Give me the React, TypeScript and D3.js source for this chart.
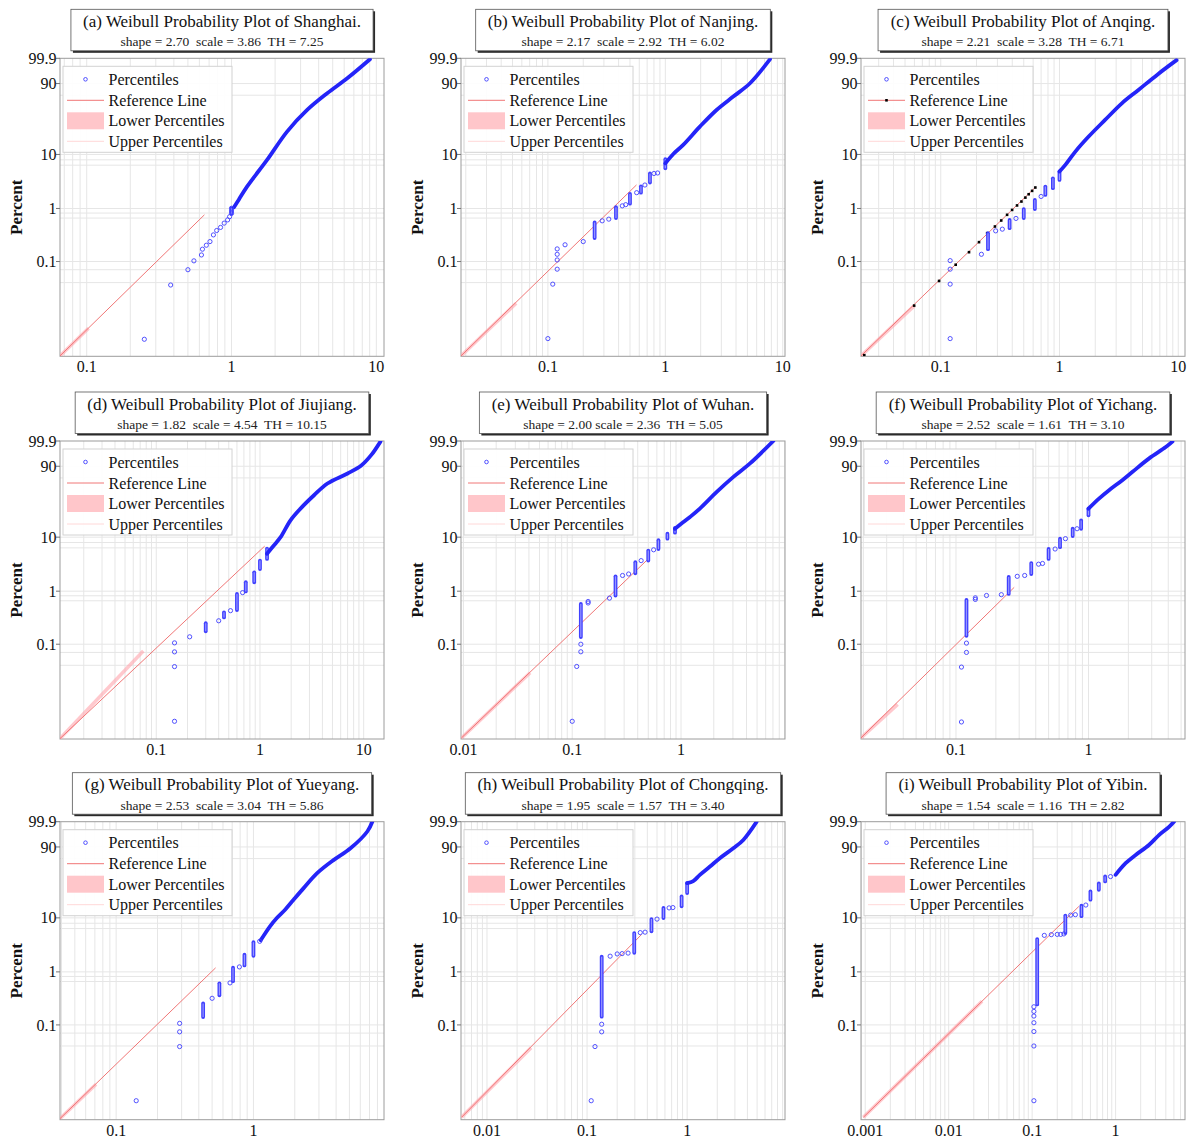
import React from 'react';
import * as d3 from 'd3';

// ---- values: [speed, percent] ----

const letters = ['a', 'b', 'c', 'd', 'e', 'f', 'g', 'h', 'i'];
const cities = ['Shanghai', 'Nanjing', 'Anqing', 'Jiujiang', 'Wuhan', 'Yichang', 'Yueyang', 'Chongqing', 'Yibin'];
const subtitles = [
  'shape = 2.70  scale = 3.86  TH = 7.25',
  'shape = 2.17  scale = 2.92  TH = 6.02',
  'shape = 2.21  scale = 3.28  TH = 6.71',
  'shape = 1.82  scale = 4.54  TH = 10.15',
  'shape = 2.00 scale = 2.36  TH = 5.05',
  'shape = 2.52  scale = 1.61  TH = 3.10',
  'shape = 2.53  scale = 3.04  TH = 5.86',
  'shape = 1.95  scale = 1.57  TH = 3.40',
  'shape = 1.54  scale = 1.16  TH = 2.82',
];

const xDomains = [
  [0.0654, 11.3], [0.0182, 10.45], [0.0213, 11.4],
  [0.0118, 15.7], [0.0095, 9.03], [0.0192, 5.35],
  [0.039, 8.93], [0.0055, 9.5], [0.00089, 6.79],
];
const xTickVals = [
  [0.1, 1, 10], [0.1, 1, 10], [0.1, 1, 10],
  [0.1, 1, 10], [0.01, 0.1, 1], [0.1, 1],
  [0.1, 1], [0.01, 0.1, 1], [0.001, 0.01, 0.1, 1],
];
const yTickVals = [0.1, 1, 10, 90, 99.9];
const yGridVals = [90, 75, 10, 8, 6.4, 1, 0.82, 0.66, 0.1, 0.07, 0.04];

// reference line end points, and where the lower band stops
const shanghaiRef = [[0.0654, 0.00165], [0.65, 0.76]];
const nanjingRef = [[0.0182, 0.00165], [0.568, 2.76]];
const anqingRef = [[0.0213, 0.00165], [0.635, 2.57]];
const jiujiangRef = [[0.0118, 0.00165], [1.11, 6.88]];
const wuhanRef = [[0.0096, 0.0017], [0.5, 4.02]];
const yichangRef = [[0.0192, 0.0017], [0.275, 1.18]];
const yueyangRef = [[0.039, 0.0017], [0.53, 1.19]];
const chongqingRef = [[0.00557, 0.0018], [0.349, 4.95]];
const yibinRef = [[0.00095, 0.0018], [0.363, 15.9]];

const bandEnds = [
  [0.103, 0.0055], [0.0537, 0.0163], [0.06, 0.0147],
  [0.075, 0.0745], [0.041, 0.029], [0.0363, 0.0073],
  [0.0714, 0.0076], [0.0276, 0.037], [0.0251, 0.28],
];

// black markers on the Anqing reference line
const anqingRefDots = [
  [0.0227, 0.0017], [0.0597, 0.0147], [0.0968, 0.043], [0.1336, 0.087], [0.173, 0.15],
  [0.21, 0.232], [0.246, 0.343], [0.286, 0.458], [0.323, 0.594], [0.362, 0.76],
  [0.399, 0.94], [0.439, 1.14], [0.478, 1.35], [0.516, 1.6], [0.55, 1.85],
  [0.588, 2.14], [0.626, 2.47],
];

// single percentile circles
const shanghaiPts = [
  [0.25, 0.0034], [0.38, 0.036], [0.5, 0.07], [0.55, 0.103], [0.62, 0.133], [0.63, 0.171],
  [0.67, 0.203], [0.71, 0.238], [0.75, 0.318], [0.79, 0.385], [0.84, 0.44], [0.89, 0.53],
  [0.94, 0.61], [0.97, 0.7], [1.0, 0.81], [1.0, 0.9], [1.0, 1.01],
];
const nanjingPts = [
  [0.1, 0.0035], [0.11, 0.0374], [0.12, 0.0717], [0.12, 0.107], [0.12, 0.137], [0.12, 0.173],
  [0.14, 0.207], [0.2, 0.238], [0.29, 0.586], [0.33, 0.63], [0.43, 1.12], [0.46, 1.18],
  [0.57, 1.98], [0.67, 2.75], [0.8, 4.5], [0.86, 4.6],
];
const anqingPts = [
  [0.12, 0.0035], [0.12, 0.0374], [0.12, 0.0717], [0.12, 0.104], [0.22, 0.137],
  [0.29, 0.379], [0.33, 0.408], [0.43, 0.65], [0.7, 1.68],
];
const jiujiangPts = [
  [0.15, 0.0035], [0.15, 0.0378], [0.15, 0.0717], [0.15, 0.106], [0.21, 0.138],
  [0.4, 0.277], [0.52, 0.43], [0.68, 0.94],
];
const wuhanPts = [
  [0.1, 0.0035], [0.11, 0.038], [0.12, 0.072], [0.12, 0.1], [0.14, 0.6], [0.14, 0.64],
  [0.22, 0.74], [0.29, 1.97], [0.33, 2.1], [0.43, 3.73], [0.56, 5.9],
];
const yichangPts = [
  [0.11, 0.0034], [0.11, 0.037], [0.12, 0.07], [0.12, 0.105], [0.14, 0.7], [0.14, 0.75],
  [0.17, 0.83], [0.22, 0.86], [0.29, 1.9], [0.33, 1.97], [0.42, 3.2], [0.45, 3.3],
  [0.56, 6.1], [0.67, 9.4], [0.82, 14.1],
];
const yueyangPts = [
  [0.14, 0.0037], [0.29, 0.039], [0.29, 0.074], [0.29, 0.107], [0.5, 0.318],
  [0.675, 0.62], [0.79, 1.24], [1.11, 3.73],
];
const chongqingPts = [
  [0.11, 0.0037], [0.12, 0.039], [0.14, 0.074], [0.14, 0.103], [0.17, 1.97], [0.2, 2.17],
  [0.224, 2.2], [0.257, 2.25], [0.34, 5.4], [0.38, 5.5], [0.5, 9.5], [0.66, 15], [0.72, 15.2],
];
const yibinPts = [
  [0.105, 0.0037], [0.105, 0.04], [0.105, 0.075], [0.105, 0.11], [0.105, 0.147], [0.105, 0.18],
  [0.105, 0.22], [0.14, 4.8], [0.17, 4.95], [0.2, 5.0], [0.22, 5.0], [0.24, 5.1],
  [0.29, 11.2], [0.33, 11.4], [0.44, 16.8], [0.87, 47],
];

// tied values stacked in a column: [speed, lowest percent, highest percent]
const shanghaiCols = [[1.0, 0.8, 1.02]];
const nanjingCols = [
  [0.25, 0.277, 0.546], [0.38, 0.66, 1.06], [0.5, 1.23, 1.87], [0.62, 1.98, 2.6],
  [0.74, 3.05, 4.5], [1.0, 5.6, 8.2],
];
const anqingCols = [
  [0.25, 0.171, 0.342], [0.38, 0.425, 0.61], [0.5, 0.66, 0.976], [0.62, 0.976, 1.45],
  [0.76, 1.8, 2.57], [0.88, 2.4, 3.67], [1.0, 3.42, 4.9],
];
const jiujiangCols = [
  [0.3, 0.175, 0.25], [0.45, 0.32, 0.4], [0.6, 0.44, 0.89], [0.73, 0.99, 1.47],
  [0.88, 1.47, 2.26], [1.0, 2.6, 3.73], [1.17, 4.0, 6.2],
];
const wuhanCols = [
  [0.12, 0.137, 0.574], [0.25, 0.83, 1.9], [0.38, 2.17, 3.48], [0.5, 3.73, 5.7],
  [0.62, 6.1, 8.8], [0.75, 9.4, 11.5], [0.88, 12, 14.6],
];
const yichangCols = [
  [0.12, 0.144, 0.686], [0.25, 0.89, 1.85], [0.37, 2.1, 3.35], [0.5, 4.0, 6.1],
  [0.61, 6.6, 9.4], [0.76, 10.5, 14.1], [0.88, 14.1, 19.6], [1.0, 23.9, 30.5],
];
const yueyangCols = [
  [0.43, 0.141, 0.255], [0.565, 0.362, 0.61], [0.71, 0.67, 1.2], [0.86, 1.32, 2.1],
  [1.0, 2.0, 3.6],
];
const chongqingCols = [
  [0.14, 0.143, 1.93], [0.296, 2.28, 5.3], [0.44, 5.7, 9.5], [0.58, 9.9, 15],
  [0.88, 16, 23.5], [1.0, 26.6, 37.9],
];
const yibinCols = [
  [0.115, 0.244, 4.1], [0.25, 5.3, 11], [0.39, 10.7, 16.4], [0.5, 20.7, 28.3],
  [0.63, 30, 37.6], [0.75, 40.2, 47.1],
];

// upper tail where the circles merge into one band
const shanghaiCurve = [
  [1.04, 1.05], [1.12, 1.45], [1.28, 2.57], [1.76, 7.97], [2.42, 24.8], [3.33, 51.8],
  [4.58, 77.9], [6.3, 94.5], [9.04, 99.87],
];
const nanjingCurve = [
  [1.0, 6.9], [1.17, 10.2], [1.42, 14.8], [1.97, 29.8], [2.73, 51.8], [3.79, 72.9],
  [5.26, 90.3], [7.8, 99.87],
];
const anqingCurve = [
  [1.0, 4.9], [1.12, 6.47], [1.36, 11.25], [1.76, 20.5], [2.42, 37.7], [3.35, 62.3],
  [4.62, 82.5], [6.79, 97.0], [9.68, 99.83],
];
const jiujiangCurve = [
  [1.17, 5.0], [1.36, 7.08], [1.58, 10.0], [1.97, 19.7], [2.46, 30.6], [3.32, 47.9],
  [4.47, 66.3], [7.0, 81.4], [9.42, 90.5], [11.8, 97.6], [14.5, 99.88],
];
const wuhanCurve = [
  [0.88, 14.1], [1.01, 17.3], [1.21, 22.4], [1.49, 30.6], [2.13, 53.0], [3.03, 76.6],
  [4.31, 92.6], [7.05, 99.9],
];
const yichangCurve = [
  [1.0, 30.5], [1.2, 43.1], [1.43, 55.6], [1.8, 71.5], [2.15, 83.6], [2.87, 96.1],
  [3.83, 99.5], [4.3, 99.88],
];
const yueyangCurve = [
  [1.13, 3.9], [1.18, 4.63], [1.32, 7.04], [1.48, 9.95], [1.7, 13.96], [1.96, 20.7],
  [2.32, 31.9], [2.91, 52.1], [3.85, 73.1], [5.09, 88.6], [6.75, 98.9], [7.34, 99.9],
];
const chongqingCurve = [
  [1.0, 37.9], [1.15, 40.5], [1.34, 49.6], [1.69, 62.5], [2.12, 75.6], [2.89, 88.6],
  [3.64, 95.6], [4.95, 99.9],
];
const yibinCurve = [
  [1.0, 49.6], [1.32, 67.9], [1.74, 80.4], [2.51, 91.9], [3.31, 97.9], [4.37, 99.6],
  [5.01, 99.9],
];

const refs = [shanghaiRef, nanjingRef, anqingRef, jiujiangRef, wuhanRef, yichangRef, yueyangRef, chongqingRef, yibinRef];
const pts = [shanghaiPts, nanjingPts, anqingPts, jiujiangPts, wuhanPts, yichangPts, yueyangPts, chongqingPts, yibinPts];
const cols = [shanghaiCols, nanjingCols, anqingCols, jiujiangCols, wuhanCols, yichangCols, yueyangCols, chongqingCols, yibinCols];
const curves = [shanghaiCurve, nanjingCurve, anqingCurve, jiujiangCurve, wuhanCurve, yichangCurve, yueyangCurve, chongqingCurve, yibinCurve];

// ---- layout ----

const colLeft = [60, 461, 861];
const rowTop = [58.3, 441, 821.7];
const PW = 324;
const PH = 298;

const FONT = '"Liberation Serif", "Times New Roman", serif';
const BLUE = '#4040ff';
const DENSE = '#2424f8';
const RED = '#f07676';

// weibull probability axis
const wb = (p: number) => Math.log(-Math.log(1 - p / 100));
const W_MIN = -11.03;
const W_MAX = wb(99.9);

let ctx: CanvasRenderingContext2D | null = null;
function textWidth(s: string, font: string) {
  if (!ctx) ctx = document.createElement('canvas').getContext('2d');
  if (!ctx) return s.length * 8;
  ctx.font = font;
  return ctx.measureText(s).width;
}

function Panel({ i }: { i: number }) {
  const left = colLeft[i % 3];
  const top = rowTop[Math.floor(i / 3)];
  const x = d3.scaleLog().domain(xDomains[i]).range([left, left + PW]);
  const yLin = d3.scaleLinear().domain([W_MIN, W_MAX]).range([top + PH, top]);
  const y = (p: number) => yLin(wb(p));

  const line = d3.line<number[]>().x((d) => x(d[0])).y((d) => y(d[1]));
  const smooth = d3.line<number[]>().x((d) => x(d[0])).y((d) => y(d[1])).curve(d3.curveCatmullRom.alpha(0.5));
  const ref = refs[i];
  const band = [ref[0], bandEnds[i]];
  const clipId = `clip-${i}`;

  const title = `(${letters[i]}) Weibull Probability Plot of ${cities[i]}.`;
  const tw = Math.max(textWidth(title, `17px ${FONT}`), textWidth(subtitles[i], `13.5px ${FONT}`));
  const boxW = tw + 24;
  const cx = left + PW / 2;
  const boxY = top - 49;
  const boxH = 41.5;

  const vGrid = x.ticks();

  return (
    <g>
      <defs>
        <clipPath id={clipId}>
          <rect x={left} y={top} width={PW} height={PH} />
        </clipPath>
      </defs>

      {/* title box */}
      <rect x={cx - boxW / 2 + 2} y={boxY + 2} width={boxW} height={boxH} fill="#2a2a2a" />
      <rect x={cx - boxW / 2} y={boxY} width={boxW} height={boxH} fill="#fff" stroke="#555" strokeWidth={0.8} />
      <text x={cx} y={boxY + 17.5} textAnchor="middle" fontFamily={FONT} fontSize={17} fill="#111">
        {title}
      </text>
      <text x={cx} y={boxY + 37} textAnchor="middle" fontFamily={FONT} fontSize={13.5} fill="#222" style={{ whiteSpace: 'pre' }}>
        {subtitles[i]}
      </text>

      {/* grid */}
      <g clipPath={`url(#${clipId})`}>
        {vGrid.map((v, k) => (
          <line key={'v' + k} x1={x(v)} x2={x(v)} y1={top} y2={top + PH} stroke="#e6e6e6" strokeWidth={1} />
        ))}
        {yGridVals.map((p, k) => (
          <line key={'h' + k} x1={left} x2={left + PW} y1={y(p)} y2={y(p)} stroke="#e6e6e6" strokeWidth={1} />
        ))}
      </g>
      <rect x={left} y={top} width={PW} height={PH} fill="none" stroke="#9c9c9c" strokeWidth={1} />

      {/* y axis */}
      {yTickVals.map((p) => (
        <g key={'yt' + p}>
          <line x1={left - 4} x2={left} y1={y(p)} y2={y(p)} stroke="#777" />
          <text x={left - 3.5} y={y(p)} dy="0.35em" textAnchor="end" fontFamily={FONT} fontSize={16} fill="#111">
            {String(p)}
          </text>
        </g>
      ))}
      <text
        transform={`translate(${left - 38},${top + PH / 2}) rotate(-90)`}
        textAnchor="middle"
        fontFamily={FONT}
        fontWeight="bold"
        fontSize={17}
        fill="#111"
      >
        Percent
      </text>

      {/* x axis */}
      {xTickVals[i].map((v) => (
        <text key={'xt' + v} x={x(v)} y={top + PH + 16} textAnchor="middle" fontFamily={FONT} fontSize={16} fill="#111">
          {String(v)}
        </text>
      ))}

      {/* marks */}
      <g clipPath={`url(#${clipId})`}>
        <path d={line(band) || ''} stroke="#ffa4ab" strokeOpacity={0.6} strokeWidth={3.5} fill="none" />
        <path d={line(ref) || ''} stroke={RED} strokeWidth={1} fill="none" />
        {i === 2 &&
          anqingRefDots.map((d, k) => (
            <rect key={'rd' + k} x={x(d[0]) - 1.3} y={y(d[1]) - 1.3} width={2.6} height={2.6} fill="#000" />
          ))}
        {cols[i].map((c, k) => (
          <g key={'c' + k}>
            <line
              x1={x(c[0])}
              x2={x(c[0])}
              y1={y(c[1])}
              y2={y(c[2])}
              stroke={BLUE}
              strokeWidth={3.8}
              strokeLinecap="round"
            />
            <line
              x1={x(c[0])}
              x2={x(c[0])}
              y1={y(c[1])}
              y2={y(c[2])}
              stroke="#fff"
              strokeOpacity={0.45}
              strokeWidth={1.2}
            />
          </g>
        ))}
        <path
          d={smooth(curves[i]) || ''}
          stroke={DENSE}
          strokeWidth={3.8}
          strokeLinecap="round"
          strokeLinejoin="round"
          fill="none"
        />
        {pts[i].map((d, k) => (
          <circle key={'p' + k} cx={x(d[0])} cy={y(d[1])} r={2.1} fill="none" stroke={BLUE} strokeWidth={0.9} />
        ))}
      </g>

      {/* legend */}
      <g transform={`translate(${left + 3},${top + 8})`} fontFamily={FONT} fontSize={16} fill="#111">
        <rect width={169} height={86} fill="#fff" fillOpacity={0.92} stroke="#d2d2d2" />
        <circle cx={22.5} cy={13} r={1.8} fill="none" stroke={BLUE} strokeWidth={0.9} />
        <text x={45.5} y={18.5}>Percentiles</text>
        <line x1={4} x2={41} y1={34} y2={34} stroke={RED} strokeWidth={1} />
        {i === 2 && <rect x={21.2} y={32.7} width={2.6} height={2.6} fill="#000" />}
        <text x={45.5} y={39.5}>Reference Line</text>
        <rect x={4} y={46} width={37} height={17} fill="#ffc6ca" />
        <text x={45.5} y={60}>Lower Percentiles</text>
        <line x1={4} x2={41} y1={75} y2={75} stroke="#ffd8d8" strokeWidth={1} />
        <text x={45.5} y={80.5}>Upper Percentiles</text>
      </g>
    </g>
  );
}

export default function App() {
  return (
    <div style={{ position: 'absolute', left: 0, top: 0 }}>
      <svg width={1190} height={1142} style={{ display: 'block', background: '#fff' }}>
        {letters.map((_, i) => (
          <Panel key={i} i={i} />
        ))}
      </svg>
    </div>
  );
}
